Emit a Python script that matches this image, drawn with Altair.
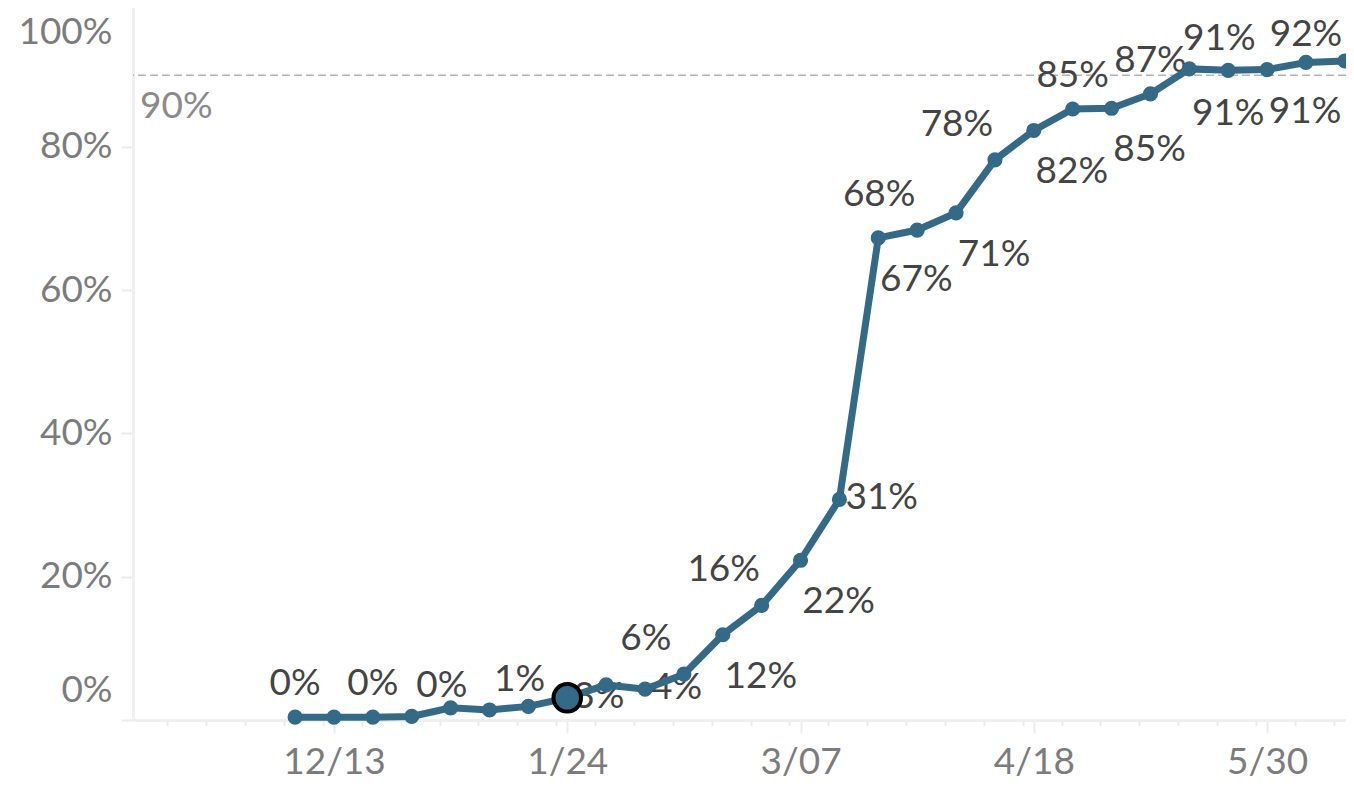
import altair as alt
import pandas as pd

# ---- data ----
dates = ["2020-12-06", "2020-12-13", "2020-12-20", "2020-12-27", "2021-01-03", "2021-01-10",
         "2021-01-17", "2021-01-24", "2021-01-31", "2021-02-07", "2021-02-14", "2021-02-21",
         "2021-02-28", "2021-03-07", "2021-03-14", "2021-03-21", "2021-03-28", "2021-04-04",
         "2021-04-11", "2021-04-18", "2021-04-25", "2021-05-02", "2021-05-09", "2021-05-16",
         "2021-05-23", "2021-05-30", "2021-06-06", "2021-06-13"]
values = [0.4, 0.4, 0.4, 0.5, 1.7, 1.4, 1.9, 3.1, 4.9, 4.3, 6.4, 11.9,
          16.0, 22.3, 30.8, 67.3, 68.4, 70.8, 78.2, 82.3, 85.3, 85.4, 87.4, 90.9,
          90.7, 90.8, 91.8, 92.0]
label_side = ["n", "none", "n", "ne", "none", "ne", "none", "e", "none", "e", "nw", "se",
              "nw", "se", "e", "se", "nw", "se", "nw", "se", "n", "se", "n", "ne",
              "s", "se", "nt", "none"]
major_ticks = ["2020-12-13", "2021-01-24", "2021-03-07", "2021-04-18", "2021-05-30"]
minor_ticks = ["2020-11-13", "2020-11-20", "2020-11-27", "2020-12-04", "2020-12-11", "2020-12-18",
               "2020-12-25", "2021-01-01", "2021-01-08", "2021-01-15", "2021-01-22", "2021-01-29",
               "2021-02-05", "2021-02-12", "2021-02-19", "2021-02-26", "2021-03-05", "2021-03-12",
               "2021-03-19", "2021-03-26", "2021-04-02", "2021-04-09", "2021-04-16", "2021-04-23",
               "2021-04-30", "2021-05-07", "2021-05-14", "2021-05-21", "2021-05-28", "2021-06-04",
               "2021-06-11"]
y_ticks = [0, 20, 40, 60, 80, 100]
highlight_date = "2021-01-24"
reference_value = 90
reference_label = "90%"

# ---- styles ----
LINE_COLOR = "#336a87"
FONT = "Lato"
FS = 37
AXIS_LABEL = "#7c7c7c"
DATA_LABEL = "#444444"
SIDES = {
    "n": (0, -33, "center"),
    "nt": (0, -27, "center"),
    "ne": (30, -30, "center"),
    "nw": (-38, -35, "center"),
    "se": (38, 42, "center"),
    "s": (0, 44, "center"),
    "e": (6, -1, "left"),
}
PLOT_W, PLOT_H = 1213, 712


def dt(s, h=0, m=0):
    y, mo, d = map(int, s.split("-"))
    return alt.DateTime(year=y, month=mo, date=d, hours=h, minutes=m, utc=True)


df = pd.DataFrame({"date": dates, "value": values, "side": label_side})
df["label"] = [f"{round(v)}%" for v in values]
hl_df = df[df["date"] == highlight_date]
ref_df = pd.DataFrame({"v": [reference_value], "t": [reference_label]})

x_scale = alt.Scale(type="utc", domain=[dt("2020-11-06", 19, 30), dt("2021-06-13", 5)])
y_scale = alt.Scale(domain=[0, 100], range=[PLOT_H, -4.3], nice=False, zero=True)

x_axis = alt.Axis(
    values=[dt(d) for d in major_ticks],
    labelExpr="utcFormat(datum.value, '%-m/%d')",
    tickSize=13, tickColor="#ececec", tickWidth=2,
    domainColor="#f0f0f0", domainWidth=3,
    labelFont=FONT, labelFontSize=FS, labelColor=AXIS_LABEL, labelPadding=11,
    labelFlush=False, labelOverlap=False, grid=False, title=None,
)
minor_axis = alt.Axis(
    values=[dt(d) for d in minor_ticks], orient="bottom",
    labels=False, domain=False, grid=False, title=None,
    tickSize=6, tickColor="#ececec", tickWidth=2,
)
y_axis = alt.Axis(
    values=y_ticks, labelExpr="datum.value + '%'",
    tickSize=12, tickColor="#ececec", tickWidth=2,
    domainColor="#f0f0f0", domainWidth=3,
    labelFont=FONT, labelFontSize=FS, labelColor=AXIS_LABEL, labelPadding=9,
    labelFlush=5, labelFlushOffset=-11, labelOverlap=False, grid=False, title=None,
)

X = alt.X("date:T", scale=x_scale, axis=x_axis)
Y = alt.Y("value:Q", scale=y_scale, axis=y_axis)

base = alt.Chart(df)

label_layers = []
for side, (dx, dy, align) in SIDES.items():
    label_layers.append(
        base.transform_filter(alt.datum.side == side)
        .mark_text(font=FONT, fontSize=FS, color=DATA_LABEL, dx=dx, dy=dy,
                   align=align, baseline="middle")
        .encode(x=X, y=Y, text="label:N")
    )

line = base.mark_line(color=LINE_COLOR, strokeWidth=7).encode(x=X, y=Y)
points = base.mark_circle(color=LINE_COLOR, size=230, opacity=1).encode(x=X, y=Y)
highlight = alt.Chart(hl_df).mark_point(
    filled=True, fill=LINE_COLOR, stroke="black", strokeWidth=4, size=760, opacity=1
).encode(x=X, y=Y)

ref_rule = alt.Chart(ref_df).mark_rule(
    color="#b4b4b4", strokeWidth=1.5, strokeDash=[8, 4]
).encode(y=alt.Y("v:Q", scale=y_scale, axis=y_axis))
ref_text = alt.Chart(ref_df).mark_text(
    font=FONT, fontSize=FS, color="#8a8a8a", align="left", baseline="middle", dy=32
).encode(x=alt.value(7), y=alt.Y("v:Q", scale=y_scale, axis=y_axis), text="t:N")

main = alt.layer(ref_rule, ref_text, *label_layers, line, points, highlight)

minor = alt.Chart(df).mark_point(opacity=0).encode(
    x=alt.X("date:T", scale=x_scale, axis=minor_axis)
)

chart = (
    alt.layer(main, minor)
    .resolve_axis(x="independent")
    .properties(
        width=PLOT_W, height=PLOT_H,
        padding={"left": 125, "top": 0, "right": 0, "bottom": 60},
        autosize=alt.AutoSizeParams(type="none"),
        background="white",
    )
    .configure_view(stroke=None)
)

chart.save("out.html", embed_options={"renderer": "svg", "actions": False})
